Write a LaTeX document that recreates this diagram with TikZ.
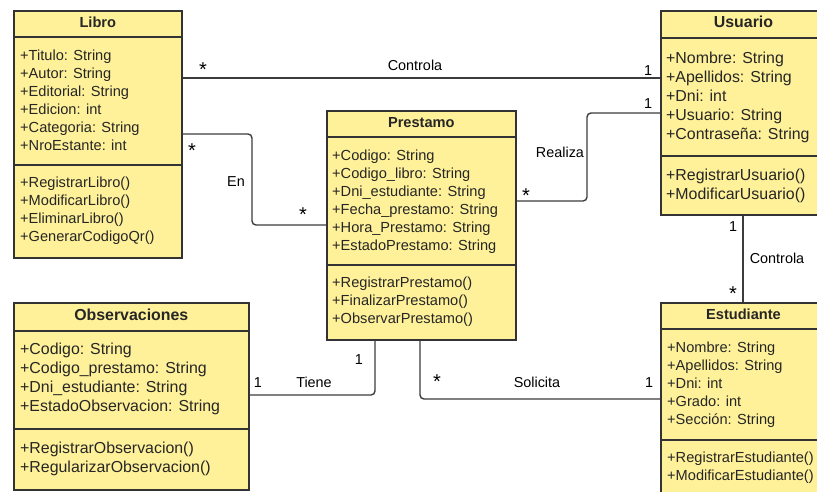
\documentclass[tikz,border=0pt]{standalone}
\usepackage{fontspec}
\setmainfont{Liberation Sans}
\definecolor{classfill}{HTML}{FFF199}
\definecolor{boxline}{HTML}{333333}
\definecolor{wire}{HTML}{3C3C3C}
\definecolor{txt}{HTML}{262626}
\newcommand{\fsA}{\fontsize{14.6}{18}\selectfont}
\newcommand{\fsB}{\fontsize{15.9}{19}\selectfont}
\tikzset{
  umlbox/.style={draw=boxline, fill=classfill, line width=1.6pt, anchor=north west, inner sep=0pt},
  sepline/.style={draw=boxline, line width=1.6pt},
  member/.style={anchor=base west, inner sep=0pt, text=txt},
  classname/.style={anchor=base, inner sep=0pt, text=txt},
  assoc/.style={draw=wire, line width=1.4pt, rounded corners=4pt},
  lbl/.style={anchor=base, inner sep=0pt, text=black, font=\fontsize{14.4}{16}\selectfont},
  many/.style={anchor=base, inner sep=0pt, text=black, font=\fontsize{20}{20}\selectfont},
}
\begin{document}
\begin{tikzpicture}[x=1pt, y=-1pt]
  \useasboundingbox (0,0) rectangle (817,491);
  \clip (0,0) rectangle (817,491);
  \fill[white] (0,0) rectangle (817,491);

  % ---------- class boxes ----------
  \node[umlbox, minimum width=168pt, minimum height=247pt] (libro) at (13,10) {};
  \node[umlbox, minimum width=167pt, minimum height=204pt] (usuario) at (660,10) {};
  \node[umlbox, minimum width=189pt, minimum height=229pt] (prestamo) at (326,110) {};
  \node[umlbox, minimum width=235pt, minimum height=187pt] (observaciones) at (13,302) {};
  \node[umlbox, minimum width=167pt, minimum height=200pt] (estudiante) at (660,302) {};

  % compartment separators
  \draw[sepline] (libro.west |- 0,37) -- (libro.east |- 0,37);
  \draw[sepline] (libro.west |- 0,165) -- (libro.east |- 0,165);
  \draw[sepline] (usuario.west |- 0,38) -- (usuario.east |- 0,38);
  \draw[sepline] (usuario.west |- 0,156) -- (usuario.east |- 0,156);
  \draw[sepline] (prestamo.west |- 0,137) -- (prestamo.east |- 0,137);
  \draw[sepline] (prestamo.west |- 0,265) -- (prestamo.east |- 0,265);
  \draw[sepline] (observaciones.west |- 0,331) -- (observaciones.east |- 0,331);
  \draw[sepline] (observaciones.west |- 0,429) -- (observaciones.east |- 0,429);
  \draw[sepline] (estudiante.west |- 0,329) -- (estudiante.east |- 0,329);
  \draw[sepline] (estudiante.west |- 0,440) -- (estudiante.east |- 0,440);

  % ---------- Libro ----------
  \begin{scope}[font=\fsA]
    \node[classname, font=\fsA\bfseries] (libro-t) at (libro.north |- 0,27) {Libro};
    \foreach \t [count=\i from 0] in {+Titulo: String, +Autor: String, +Editorial: String,
        +Edicion: int, +Categoria: String, +NroEstante: int}
      \node[member] (libro-a\i) at (20,{60+18*\i}) {\t};
    \foreach \t [count=\i from 0] in {+RegistrarLibro(), +ModificarLibro(),
        +EliminarLibro(), +GenerarCodigoQr()}
      \node[member] (libro-m\i) at (20,{187+18*\i}) {\t};
  \end{scope}

  % ---------- Usuario ----------
  \begin{scope}[font=\fsB]
    \node[classname, font=\fsB\bfseries] (usuario-t) at (743.5,27) {Usuario};
    \foreach \t [count=\i from 0] in {+Nombre: String, +Apellidos: String, +Dni: int,
        +Usuario: String, +Contraseña: String}
      \node[member] (usuario-a\i) at (666,{63+19*\i}) {\t};
    \foreach \t [count=\i from 0] in {+RegistrarUsuario(), +ModificarUsuario()}
      \node[member] (usuario-m\i) at (666,{180+19*\i}) {\t};
  \end{scope}

  % ---------- Prestamo ----------
  \begin{scope}[font=\fsA]
    \node[classname, font=\fsA\bfseries] (prestamo-t) at (prestamo.north |- 0,127) {Prestamo};
    \foreach \t [count=\i from 0] in {+Codigo: String, +Codigo\_libro: String,
        +Dni\_estudiante: String, +Fecha\_prestamo: String, +Hora\_Prestamo: String,
        +EstadoPrestamo: String}
      \node[member] (prestamo-a\i) at (332,{160+18*\i}) {\t};
    \foreach \t [count=\i from 0] in {+RegistrarPrestamo(), +FinalizarPrestamo(),
        +ObservarPrestamo()}
      \node[member] (prestamo-m\i) at (332,{287+18*\i}) {\t};
  \end{scope}

  % ---------- Observaciones ----------
  \begin{scope}[font=\fsB]
    \node[classname, font=\fsB\bfseries] (observaciones-t) at (observaciones.north |- 0,320) {Observaciones};
    \foreach \t [count=\i from 0] in {+Codigo: String, +Codigo\_prestamo: String,
        +Dni\_estudiante: String, +EstadoObservacion: String}
      \node[member] (observaciones-a\i) at (20,{354+19*\i}) {\t};
    \foreach \t [count=\i from 0] in {+RegistrarObservacion(), +RegularizarObservacion()}
      \node[member] (observaciones-m\i) at (20,{453+19*\i}) {\t};
  \end{scope}

  % ---------- Estudiante ----------
  \begin{scope}[font=\fsA]
    \node[classname, font=\fsA\bfseries] (estudiante-t) at (743.5,319) {Estudiante};
    \foreach \t [count=\i from 0] in {+Nombre: String, +Apellidos: String, +Dni: int,
        +Grado: int, +Sección: String}
      \node[member] (estudiante-a\i) at (667,{352+18*\i}) {\t};
    \foreach \t [count=\i from 0] in {+RegistrarEstudiante(), +ModificarEstudiante()}
      \node[member] (estudiante-m\i) at (667,{462+18*\i}) {\t};
  \end{scope}

  % ---------- associations ----------
  % Libro -- Usuario (Controla)
  \draw[assoc] (libro.east |- 0,78) -- (usuario.west |- 0,78);
  \node[many] (m1a) at (203,76.5) {*};
  \node[lbl] (r1) at (415,70) {Controla};
  \node[lbl] (m1b) at (648,75) {1};

  % Libro -- Prestamo (En)
  \draw[assoc] (libro.east |- 0,134) -- (252,134) -- (252,225) -- (prestamo.west |- 0,225);
  \node[many] (m2a) at (192,157.5) {*};
  \node[lbl] (r2) at (236,186) {En};
  \node[many] (m2b) at (303,221.5) {*};

  % Prestamo -- Usuario (Realiza)
  \draw[assoc] (prestamo.east |- 0,201) -- (587,201) -- (587,113) -- (usuario.west |- 0,113);
  \node[many] (m3a) at (526,202.5) {*};
  \node[lbl] (r3) at (560,157) {Realiza};
  \node[lbl] (m3b) at (648,108) {1};

  % Usuario -- Estudiante (Controla)
  \draw[assoc] (usuario.south -| 743,0) -- (estudiante.north -| 743,0);
  \node[lbl] (m4a) at (733,231) {1};
  \node[lbl] (r4) at (777,263) {Controla};
  \node[many] (m4b) at (733,300) {*};

  % Prestamo -- Observaciones (Tiene)
  \draw[assoc] (prestamo.south -| 375,0) -- (375,395) -- (observaciones.east |- 0,395);
  \node[lbl] (m5a) at (359,364) {1};
  \node[lbl] (r5) at (314,387) {Tiene};
  \node[lbl] (m5b) at (258,387) {1};

  % Prestamo -- Estudiante (Solicita)
  \draw[assoc] (prestamo.south -| 420,0) -- (420,399) -- (estudiante.west |- 0,399);
  \node[many] (m6a) at (437,388.5) {*};
  \node[lbl] (r6) at (537,387) {Solicita};
  \node[lbl] (m6b) at (649,387) {1};
\end{tikzpicture}
\end{document}
